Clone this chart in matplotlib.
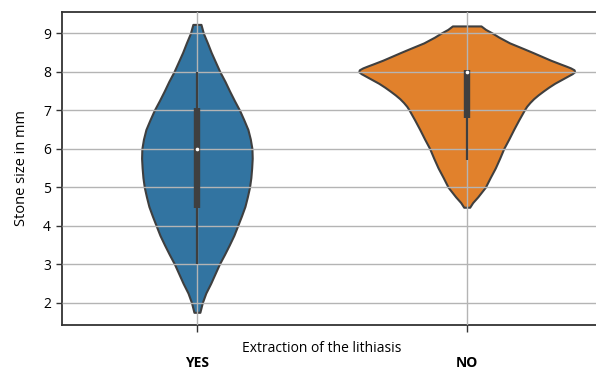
import matplotlib
matplotlib.use("Agg")
import matplotlib.pyplot as plt
import numpy as np

plt.rcParams['font.family'] = ['Open Sans', 'DejaVu Sans']

groups = ['YES', 'NO']
colors = ['#3274a1', '#e1812c']

# violin outline: stone size (mm) and half width (in category units)
yes_size = [1.75, 2.0, 2.25, 2.5, 2.75, 3.0, 3.25, 3.5, 3.75, 4.0, 4.25, 4.5, 4.75,
            5.0, 5.25, 5.5, 5.75, 6.0, 6.25, 6.5, 6.75, 7.0, 7.25, 7.5, 7.75,
            8.0, 8.25, 8.5, 8.75, 9.0, 9.23]
yes_half = [0.011, 0.020, 0.033, 0.051, 0.067, 0.083, 0.102, 0.120, 0.137, 0.151,
            0.165, 0.178, 0.187, 0.195, 0.200, 0.203, 0.205, 0.204, 0.198, 0.189,
            0.174, 0.158, 0.139, 0.121, 0.104, 0.085, 0.069, 0.053, 0.039, 0.024,
            0.015]
no_size = [4.48, 4.6, 4.75, 5.0, 5.25, 5.5, 5.75, 6.0, 6.25, 6.5, 6.75, 7.0, 7.1,
           7.2, 7.3, 7.4, 7.5, 7.6, 7.7, 7.8, 7.9, 7.95, 8.0, 8.05, 8.1, 8.15, 8.2,
           8.3, 8.4, 8.5, 8.6, 8.75, 8.9, 9.0, 9.1, 9.19]
no_half = [0.011, 0.022, 0.041, 0.069, 0.087, 0.106, 0.122, 0.137, 0.156, 0.174,
           0.193, 0.213, 0.222, 0.234, 0.248, 0.265, 0.284, 0.304, 0.326, 0.352,
           0.378, 0.391, 0.400, 0.398, 0.385, 0.367, 0.348, 0.311, 0.278, 0.245,
           0.211, 0.159, 0.119, 0.096, 0.070, 0.053]

# box summary: whisker low, q1, median, q3, whisker high
yes_box = [3.0, 4.45, 6.0, 7.07, 8.0]
no_box = [5.7, 6.8, 8.0, 8.04, 8.04]

profiles = [(yes_size, yes_half), (no_size, no_half)]
boxes = [yes_box, no_box]

fig = plt.figure(figsize=(5.96, 3.72), dpi=100)
ax = fig.add_axes([62 / 596, 47 / 372, 539.6 / 596, 313.3 / 372])

for i, ((ys, hw), c) in enumerate(zip(profiles, colors)):
    ys = np.array(ys)
    hw = np.array(hw)
    ax.fill_betweenx(ys, i - hw, i + hw, facecolor=c, edgecolor='#3f3f3f',
                     linewidth=1.5, zorder=1)

for i, b in enumerate(boxes):
    ax.plot([i, i], [b[0], b[4]], color='#3f3f3f', lw=1.6, zorder=3,
            solid_capstyle='butt')
    ax.plot([i, i], [b[1], b[3]], color='#3f3f3f', lw=4.6, zorder=3,
            solid_capstyle='butt')
    ax.scatter([i], [b[2]], s=7, color='white', zorder=4, linewidths=0)

ax.set_xlim(-0.5, 1.5)
ax.set_ylim(1.42, 9.56)
ax.set_xticks([0, 1])
ax.set_xticklabels(groups, fontweight='bold', fontsize=10)
ax.set_yticks(range(2, 10))
ax.tick_params(axis='y', labelsize=10, length=4, width=1, color='#333333', pad=4)
ax.tick_params(axis='x', length=5, width=1, color='#333333', pad=17)

ax.grid(True, color='#b4b4b4', lw=1, zorder=2)
ax.set_axisbelow(False)
for side in ['left', 'top', 'bottom']:
    ax.spines[side].set_color('#333333')
    ax.spines[side].set_linewidth(1.3)
ax.spines['right'].set_visible(False)

ax.set_ylabel('Stone size in mm', fontsize=10.5, labelpad=10)
ax.set_xlabel('Extraction of the lithiasis', fontsize=10)
ax.xaxis.set_label_coords(0.482, -0.05)

fig.savefig('out.png', dpi=100)
